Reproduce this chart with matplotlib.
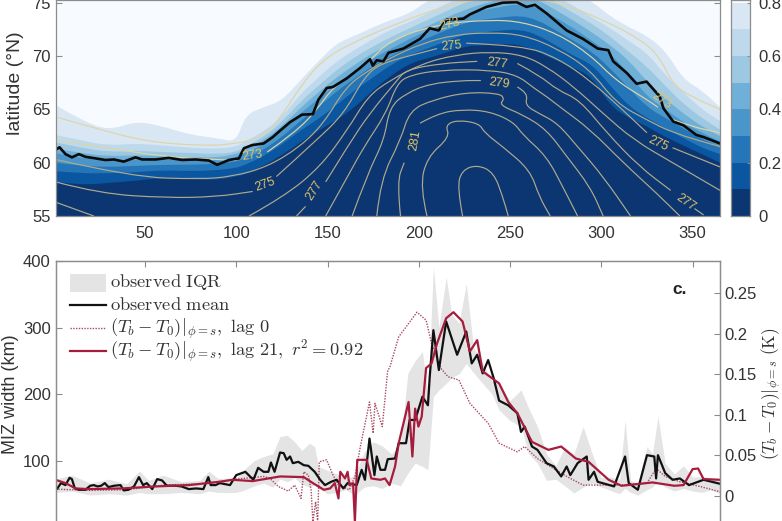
import matplotlib
matplotlib.use("Agg")
import matplotlib.pyplot as plt
from matplotlib.lines import Line2D
from matplotlib.patches import PathPatch, Rectangle
from matplotlib.path import Path

plt.rcParams['font.family'] = ['Liberation Sans', 'DejaVu Sans']
plt.rcParams['mathtext.fontset'] = 'cm'

# ---- top panel: ice concentration edges, latitude per day
edge_days = [1,15,30,45,60,75,90,100,105,115,125,135,145,155,165,175,185,195,205,215,225,235,245,255,265,275,285,295,305,315,325,335,345,355,365]
edge_01 = [58.2,57.9,58.1,58.3,58.6,58.4,58.4,58.7,58.9,59.7,60.7,61.9,63,64,65.2,66.8,68.2,69.3,69.8,70.3,70.9,71,71.1,71.1,70.4,69.6,68.9,68,65.3,64.2,63.4,62.4,61.6,60.8,60]
edge_02 = [59.2,59,59,59.1,59.3,59.2,59.3,59.5,59.8,60.6,61.7,63,64.1,65.4,66.8,68,69.2,70.1,70.7,71.4,72,72.2,72.4,72.5,72,71,70,69.2,67.2,65.3,64.2,63.2,62.3,61.4,60.8]
edge_03 = [60,59.7,59.6,59.7,59.8,59.8,59.9,60.1,60.4,61.2,62.4,63.9,65.2,66.7,67.9,69.1,70,70.9,71.7,72.4,73.1,73.4,73.6,73.8,73.4,72.4,71.4,70.4,68.8,67,65.2,64.2,63.2,62.2,61.5]
edge_04 = [60.9,60.4,60.2,60.3,60.3,60.2,60.2,60.5,60.9,61.7,63,64.6,66,67.4,68.6,69.8,70.7,71.6,72.4,73.1,73.8,74.3,74.6,74.9,74.6,73.6,72.6,71.4,70.2,68.4,66.2,65,63.8,62.8,62]
edge_05 = [61.3,60.9,60.6,60.7,60.6,60.5,60.5,60.8,61.2,62.1,63.4,65.1,66.6,68,69.2,70.3,71.2,72.1,72.8,73.6,74.3,74.9,75.3,75.5,75.3,74.3,73.3,72.2,71,69.6,67.6,66,64.6,63.4,62.5]
edge_06 = [61.9,61.4,61,61.1,61,60.9,60.8,61,61.5,62.4,63.8,65.7,67.2,68.7,69.9,70.9,71.8,72.6,73.4,74.2,75,75.6,76,76,76,75,74,73,71.8,70.4,69,67.2,65.5,64.2,63.1]
edge_07 = [62.6,62.1,61.6,61.8,61.6,61.4,61.3,61.5,62,62.9,64.3,66.4,68,69.5,70.6,71.6,72.5,73.2,74,74.9,75.6,76,76,76,76,75.6,74.7,73.6,72.6,71.4,70.3,68.2,66.6,65,63.9]
edge_08 = [65.4,64,63,63.9,63.4,62.6,62.3,61.9,64.5,65.2,65.8,67.7,69.5,71.2,71.9,72.7,73.4,74,75.2,76,76,76,76,76,76,76,76,75.1,73.7,72.7,71.9,70.5,67.8,66.8,65.2]
band_colors = ['#0b3672','#0a56a0','#2576b8','#4a96cb','#6fb0d8','#9cc8e2','#bfd9ec','#d9e7f4']
bg_color = '#f7fbff'
cbar_levels = [0,0.1,0.2,0.3,0.4,0.5,0.6,0.7,0.8,0.82]
cbar_ticks = [0,0.2,0.4,0.6,0.8]
cbar_ticklabels = ['0','0.2','0.4','0.6','0.8']

# observed ice edge
ice_days = [1,3.2,6.5,10,13.8,17.4,23,28.4,33,38.4,44.8,48.5,55.8,63,70.4,77.7,85,89.6,96,101.5,104.2,108.8,115,120,124,129.5,136,142,145,149.6,153,160.5,168,173.3,174.8,177,180.6,183.4,191.6,200.7,206,210.8,215.3,224.5,228,237,246,253.6,259,263.6,270,275.5,281,290,298,303.8,306.5,314,319.3,324.8,332,334,339.4,345,352,356,365]
ice_lat = [61.2,61.44,60.8,60.5,60.8,60.55,60.4,60.25,60.3,60.1,60.5,60.3,60.3,60.45,60.25,60.3,60.2,59.8,60.25,60.4,61.35,61.65,61.8,62.4,63,63.8,64.5,64.55,65.9,67,67.1,67.9,68.9,69.7,69.1,69.6,69.5,70.3,70.7,71.6,72.6,72.4,73.4,73.5,73.9,74.6,75,75.05,74.6,74.8,74,73.2,72.4,71.6,70.7,70.55,69.5,68.4,67.4,67.6,66.2,65.1,63.85,63.5,62.6,62.4,61.8]

# SST contours, (day, latitude)
sst_273a_d = [1,25,52,80,98,115,126,135,147,163,190,220,240,260,277,301,322,332,339,349,365]
sst_273a_l = [64.3,63.1,61.95,61.6,61.7,62.4,64.65,67.1,69.6,71.2,73.2,75,75.4,75.4,75,73.4,71.5,69.9,67.4,66.2,65]
sst_273b_d = [1,25,61,89,100]
sst_273b_l = [62.1,61.5,60.55,60.3,60.2]
sst_273c_d = [117,132,144,153,172,184,211,239,257,276,294,308,325,331]
sst_273c_l = [61,62.8,64.9,67.1,69.3,71.5,73,73.4,73.2,72.1,70.1,67.7,65.9,65.2]
sst_273d_d = [338,349,365]
sst_273d_l = [64.1,63.4,62.8]
sst_274_d = [1,43,80,98,117,135,148,160,172,184,202,220,239,257,276,294,308,325,339,365]
sst_274_l = [60.3,58.66,58.45,58.7,59.6,61.5,63.7,67.1,68.6,69.8,71.2,72,72.2,72,70.7,68.7,65.6,64,62.8,61.5]
sst_275a_d = [1,25,62,89,109]
sst_275a_l = [58.2,57.1,56.7,56.8,57.3]
sst_275b_d = [122,144,159,170,179,199,210]
sst_275b_l = [58.7,62.1,64.6,68,69.3,70.2,70.7]
sst_275c_d = [226,257,276,294,312,325]
sst_275c_l = [71.2,71,69.8,67.7,64.9,62.8]
sst_275d_d = [339,365]
sst_275d_l = [61.4,59.6]
sst_276a_d = [1,22]
sst_276a_l = [56.3,55]
sst_276b_d = [107,126,146,161,172,184,202,220,239,257,270,285,301,318,339,365]
sst_276b_l = [55,56.8,59.6,63.1,66.2,67.7,69.3,70.1,70.4,70.1,69,67.1,64.6,62.1,60,57.4]
sst_277a_d = [133,138]
sst_277a_l = [55,55.9]
sst_277b_d = [149,162,173,188,193,212,232]
sst_277b_l = [58.2,61.8,64.6,67.7,68.7,69.3,69.5]
sst_277c_d = [254,266,276,288,303,321,338]
sst_277c_l = [69.3,68.2,66.8,65.9,62.8,59.6,57.4]
sst_277d_d = [351,356]
sst_277d_l = [55.7,55.1]
sst_278_d = [149,161,170,182,188,195,212,239,254,263,270,277.5,294,312,330.5,343]
sst_278_l = [55,58.7,61.5,64.6,67.4,68.2,68.7,68.7,68.2,67,66.2,65.2,63.1,60,57.1,55]
sst_279a_d = [163.5,172,181,184,193,206,224,234]
sst_279a_l = [55,59,62.1,65.2,66.5,67.4,67.7,67.7]
sst_279b_d = [254,260,258,266,276,287,301,316]
sst_279b_l = [67.1,66.5,65.4,64.6,63.7,61.5,58.7,55]
sst_280_d = [177,179,190,195,208,226,244,247,244,257,270,281,294,301]
sst_280_l = [55,58.4,62.1,64.9,65.9,66.6,66.5,66,65.4,64.5,63.1,60.6,57.7,55]
sst_281a_d = [190,188,192]
sst_281a_l = [55,58.2,60]
sst_281b_d = [200.7,210,224,239,252,257,270,279,287]
sst_281b_l = [63.7,64.6,65,64.8,63.8,62.6,60.6,57.7,55]
sst_282_d = [204.5,200.7,204.5,217,214.5,220.8,233,236,246,261,266,272]
sst_282_l = [55,57.7,60.5,62.4,63.5,64,63.7,62.8,61.5,59.3,56.8,55]
sst_283_d = [224,221,223.7,232,241,246,249]
sst_283_l = [55,57.7,59.3,59.8,59.1,56.8,55]
sst_labels = ['273','275','277','279','281','273','275','277','275','277','273']
label_days = [109,116,143,244,198,333,218,243,331,346,217]
label_lats = [60.7,57.9,57.4,67.4,62.1,65.8,70.9,69.3,61.8,56.3,73]
label_rot = [8,20,58,-8,80,-35,5,-8,-25,-35,15]

# ---- bottom panel
iqr_days = [1,10,20,30,40,47,52,60,70,80,85,90,100,105,110,115,120,124,128,132,136,140,143,145,150,155,160,165,170,175,180,185,190,194,198,202,205,208,211,215,218,222,226,230,235,240,244,250,256,260,265,270,275,280,285,290,295,300,305,310,313,316,320,325,328,331,335,340,345,350,355,360,365]
iqr_upper = [72,78,66,72,65,84,70,78,68,70,84,73,74,88,100,106,110,136,138,128,115,126,121,91,85,80,72,78,112,128,122,110,125,231,250,264,200,391,300,376,320,306,366,270,246,220,216,190,206,180,151,110,92,120,110,151,110,74,75,72,161,70,66,121,110,166,95,80,92,75,76,74,72]
iqr_lower = [52,54,48,50,48,52,50,50,52,50,54,52,52,56,62,66,60,72,68,74,64,60,64,58,50,52,56,48,60,62,58,66,62,81,96,91,86,196,206,216,225,230,246,232,216,200,176,160,151,111,96,70,72,62,51,60,66,60,55,50,58,52,48,56,60,68,60,54,58,54,52,56,50]
mean_days = [2,4,6.5,8.7,10,11.6,13.8,17.4,20,22,24,26,28,30,33,36.6,38.4,41,44,46.7,49,51,54,56.7,59.4,62,67,70,74,78,82,84.7,86,88.7,91,96.6,100,105,109.4,112,115,117.6,119,121,124,126,127.6,129.5,131,134,137,139.5,143,146,148.6,152,155,158.7,161,166,168.7,170.5,173,175.7,177,179,181.5,183,187,189,193,195,198,202,205,206,208,211,215,218,221,226,229,232,235,238,241,244,249,254,256,258,262,265,270,274,278,281,283,287,292,293,296,298,307,313,315,320,325,329,330,331,335,339,343,348,356,365]
mean_vals = [58,66,63,74,72,58,56,56,62,63,61,62,66,60,62,63,55,56,61,75,63,66,57,72,70,62,62,61,57,58,57,75,63,63,66,63,78,83,71,89,83,83,97,83,112,111,101,106,96,98,93,92,83,71,63,68,71,58,66,63,86,71,133,78,106,86,86,102,103,126,126,161,161,196,183,226,296,236,309,284,259,294,246,259,231,251,224,190,183,171,143,151,121,116,96,91,76,91,78,96,106,71,83,68,61,106,66,56,108,106,73,108,81,71,73,63,71,65]
red_days = [2,6.5,12,19,37.5,56,74,91,98,109,124,137,142,148,151.4,154,156,157,159.6,161,162,164,165,166.3,171.5,174,179,181.5,184,187,189,194.4,196.5,198,199.8,201.6,204,207,210,215,219,224,228,232,235,240,244,249,254,262,271,278,286,293,304,311,328,340,345,350,353,356,365]
red_vals = [70,66,58,57,58,61,63,68,71,69,76,75,66,56,58,66,43,83,73,83,63,66,8,101,101,73,71,73,63,91,126,188,106,178,151,166,239,246,276,314,323,309,264,281,234,224,216,188,171,128,116,121,103,98,71,62,67,62,63,87,88,72,71]
dot_days = [1,20,40,60,80,100,115,118.5,123,128.5,132,135.5,137,139.5,141,142,143.5,144.6,145.5,149.5,153,156,162,165,168,173,175,176,180,183,184,189,199,204,207,212,216,222,228,238,244,254,258,265,272,281,290,301,312,325,330,335,343,354,365]
dot_vals = [57,55,56,63,65,72,76,73,61,54,63,43,83,78,56,8,38,8,98,101,78,63,56,76,121,188,141,186,151,236,239,286,323,311,276,239,226,221,186,156,126,113,121,103,91,76,63,63,63,66,88,76,68,61,53]
ticks_left = [100,200,300,400]
ticks_right = [0,0.05,0.1,0.15,0.2,0.25]
right_labels = ['0','0.05','0.1','0.15','0.2','0.25']
x_ticks = [50,100,150,200,250,300,350]
legend_labels = [r'$\mathrm{observed\ IQR}$', r'$\mathrm{observed\ mean}$',
                 r'$(T_b - T_0)|_{\phi=s},\ \mathrm{lag}\ 0$',
                 r'$(T_b - T_0)|_{\phi=s},\ \mathrm{lag}\ 21,\ r^2 = 0.92$']

W, H = 782, 521
text_col = '#333333'
axis_col = '#8c8c8c'
contour_dark = '#b0aa8c'
contour_pale = '#ddd5a8'
iqr_col = '#e4e4e4'
dot_col = '#a84a62'
red = '#a61c3c'


def box(x0, y0, x1, y1):
    # pixel box (y from the top) to figure fractions
    return [x0 / W, 1 - y1 / H, (x1 - x0) / W, (y1 - y0) / H]


def style(ax):
    for s in ax.spines.values():
        s.set_color(axis_col)
        s.set_linewidth(0.9)
    ax.tick_params(direction='in', length=4.5, width=0.8, color=axis_col,
                   labelcolor=text_col, labelsize=12)


def curve(days, lats):
    # quadratic segments through the midpoints, so read points round off
    pts = list(zip(days, lats))
    verts = [pts[0]]
    codes = [Path.MOVETO]
    for a, b in zip(pts[1:-1], pts[2:]):
        verts += [a, ((a[0] + b[0]) / 2, (a[1] + b[1]) / 2)]
        codes += [Path.CURVE3, Path.CURVE3]
    verts.append(pts[-1])
    codes.append(Path.LINETO)
    return verts, codes


fig = plt.figure(figsize=(W / 100, H / 100), dpi=100)

# top panel
ax = fig.add_axes(box(55.5, 0, 720, 216))
ax.set_facecolor(bg_color)
ax.set_axisbelow(True)
edges = [edge_01, edge_02, edge_03, edge_04, edge_05, edge_06, edge_07, edge_08]
for e, c in reversed(list(zip(edges, band_colors))):
    v, k = curve(edge_days, e)
    v += [(365, 50), (1, 50), (1, 50)]
    k += [Path.LINETO, Path.LINETO, Path.CLOSEPOLY]
    ax.add_patch(PathPatch(Path(v, k), facecolor=c, edgecolor='none'))
sst_lines = [(sst_273a_d, sst_273a_l), (sst_273b_d, sst_273b_l), (sst_273c_d, sst_273c_l),
             (sst_273d_d, sst_273d_l), (sst_274_d, sst_274_l), (sst_275a_d, sst_275a_l),
             (sst_275b_d, sst_275b_l), (sst_275c_d, sst_275c_l), (sst_275d_d, sst_275d_l),
             (sst_276a_d, sst_276a_l), (sst_276b_d, sst_276b_l), (sst_277a_d, sst_277a_l),
             (sst_277b_d, sst_277b_l), (sst_277c_d, sst_277c_l), (sst_277d_d, sst_277d_l),
             (sst_278_d, sst_278_l), (sst_279a_d, sst_279a_l), (sst_279b_d, sst_279b_l),
             (sst_280_d, sst_280_l), (sst_281a_d, sst_281a_l), (sst_281b_d, sst_281b_l),
             (sst_282_d, sst_282_l), (sst_283_d, sst_283_l)]
for i, (d, l) in enumerate(sst_lines):
    v, k = curve(d, l)
    ax.add_patch(PathPatch(Path(v, k), facecolor='none', lw=0.85,
                           edgecolor=contour_pale if i < 4 else contour_dark))
ax.plot(ice_days, ice_lat, color='#0a0a0a', lw=1.9)
for t, d, l, r in zip(sst_labels, label_days, label_lats, label_rot):
    ax.text(d, l, t, color='#e3c468', fontsize=9, rotation=r, ha='center', va='center')
ax.set_xlim(1, 365)
ax.set_ylim(55, 75.25)
ax.set_xticks(x_ticks)
ax.set_yticks([55, 60, 65, 70, 75])
ax.yaxis.set_ticks_position('both')
style(ax)
ax.tick_params(axis='x', pad=7)
ax.set_ylabel('latitude (°N)', fontsize=14, color=text_col)
ax.yaxis.set_label_coords(-0.047, 0.615)

# colorbar
cax = fig.add_axes(box(730.5, 0, 750, 216))
all_colors = band_colors + [bg_color]
for i, c in enumerate(all_colors):
    cax.bar(0.5, cbar_levels[i + 1] - cbar_levels[i], bottom=cbar_levels[i], width=1, color=c, linewidth=0)
cax.set_xlim(0, 1)
cax.set_ylim(0, 0.81)
cax.set_xticks([])
cax.set_yticks(cbar_ticks)
cax.set_yticklabels(cbar_ticklabels)
cax.yaxis.tick_right()
style(cax)
cax.tick_params(axis='y', length=2, pad=6)

# bottom panel, its lower edge falls just under the picture
ax2 = fig.add_axes(box(55.5, 261, 720, 527))
ax2.fill_between(iqr_days, iqr_lower, iqr_upper, color=iqr_col, linewidth=0)
ax2.plot(dot_days, dot_vals, color=dot_col, lw=1.0, ls=(0, (1, 1)))
ax2.plot(mean_days, mean_vals, color='#111111', lw=1.6)
ax2.plot(red_days, red_vals, color=red, lw=1.6)
ax2.set_xlim(1, 365)
ax2.set_ylim(0, 400)
ax2.set_xticks(x_ticks)
ax2.set_xticklabels([])
ax2.xaxis.set_ticks_position('both')
ax2.set_yticks(ticks_left)
style(ax2)
ax2.set_ylabel('MIZ width (km)', fontsize=13, color=text_col)
ax2.yaxis.set_label_coords(-0.0555, 0.5)

ax3 = ax2.twinx()
ax3.set_ylim(-31 / 812, 235 / 812)
ax3.set_yticks(ticks_right)
ax3.set_yticklabels(right_labels)
style(ax3)
ax3.set_ylabel(r'$(T_b - T_0)|_{\phi=s}\ (\mathrm{K})$', fontsize=12.5, color=text_col)
ax3.yaxis.set_label_coords(1.06, 0.5)

# legend placed row by row
rows_y = [282, 305, 328, 351]
base_y = [287, 310, 333, 356]
fig.add_artist(Rectangle((69.5 / W, 1 - 292 / H), 36.5 / W, 18 / H, transform=fig.transFigure,
                         facecolor=iqr_col, edgecolor='none'))
fig.add_artist(Line2D([70 / W, 106 / W], [1 - rows_y[1] / H] * 2, transform=fig.transFigure, color='#111111', lw=1.6))
fig.add_artist(Line2D([70 / W, 106 / W], [1 - rows_y[2] / H] * 2, transform=fig.transFigure, color=dot_col, lw=1.0, ls=(0, (1, 1))))
fig.add_artist(Line2D([70 / W, 106 / W], [1 - rows_y[3] / H] * 2, transform=fig.transFigure, color=red, lw=1.6))
for t, y in zip(legend_labels, base_y):
    fig.text(110 / W, 1 - y / H, t, fontsize=13.3, color=text_col, ha='left', va='baseline')

fig.text(680 / W, 1 - 289 / H, 'c.', fontsize=12.5, fontweight='bold', color='#222222', ha='center', va='center')

fig.savefig('out.png', dpi=100)
